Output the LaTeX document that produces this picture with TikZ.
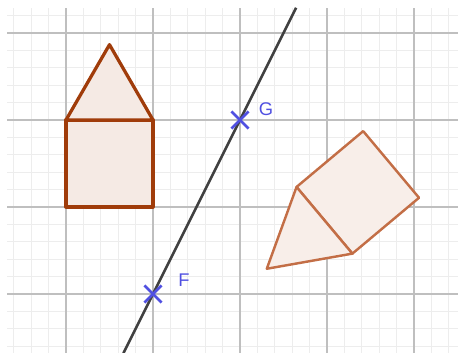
\documentclass[tikz,border=0pt]{standalone}
\usepackage{fontspec}
\setsansfont{Liberation Sans}
\usepackage{xcolor}
\usepackage{tikz}
\usetikzlibrary{calc,shapes.misc}

\definecolor{housebrown}{RGB}{160,60,10}
\definecolor{imagebrown}{RGB}{195,110,70}
\definecolor{ptblue}{RGB}{80,80,225}

\begin{document}
\begin{tikzpicture}[
  x=0.3cm, y=0.3cm,
  minorgrid/.style={draw=black!7, line width=0.4pt},
  majorgrid/.style={draw=black!25, line width=0.55pt},
  housepart/.style={draw=housebrown, fill=housebrown!11, line width=1.6pt, line join=round},
  imagepart/.style={draw=imagebrown, fill=imagebrown!12, line width=1.2pt, line join=round},
  ptmark/.style={cross out, draw=ptblue, line width=1.3pt, minimum size=0.25cm, inner sep=0pt},
  ptlabel/.style={text=ptblue, font=\sffamily\fontsize{9}{10}\selectfont}
]
\useasboundingbox (-3.793,-3.39) rectangle (22.53,16.897);
% grid
\draw[minorgrid, step=1] (-3.39,-3.39) grid (22.53,16.44);
\draw[majorgrid, step=5] (-3.39,-3.39) grid (22.53,16.44);

% house
\draw[housepart] (0,5) rectangle (5,10);
\draw[housepart] (0,10) -- (2.5,14.33) -- (5,10) -- cycle;

% its image
\draw[imagepart] (13.25,6.15) -- (16.46,2.32) -- (20.29,5.53) -- (17.08,9.36) -- cycle;
\draw[imagepart] (13.25,6.15) -- (11.54,1.45) -- (16.46,2.32) -- cycle;

% line (FG)
\coordinate (F) at (5,0);
\coordinate (G) at (10,10);
\draw[black!75, line width=1.3pt] ($(F)!-0.34!(G)$) -- ($(F)!1.645!(G)$);
\node[ptmark] (Fmark) at (F) {};
\node[ptmark] (Gmark) at (G) {};
\node[ptlabel] (Flabel) at ($(F)+(1.78,0.8)$) {F};
\node[ptlabel] (Glabel) at ($(G)+(1.5,0.6)$) {G};
\end{tikzpicture}
\end{document}
